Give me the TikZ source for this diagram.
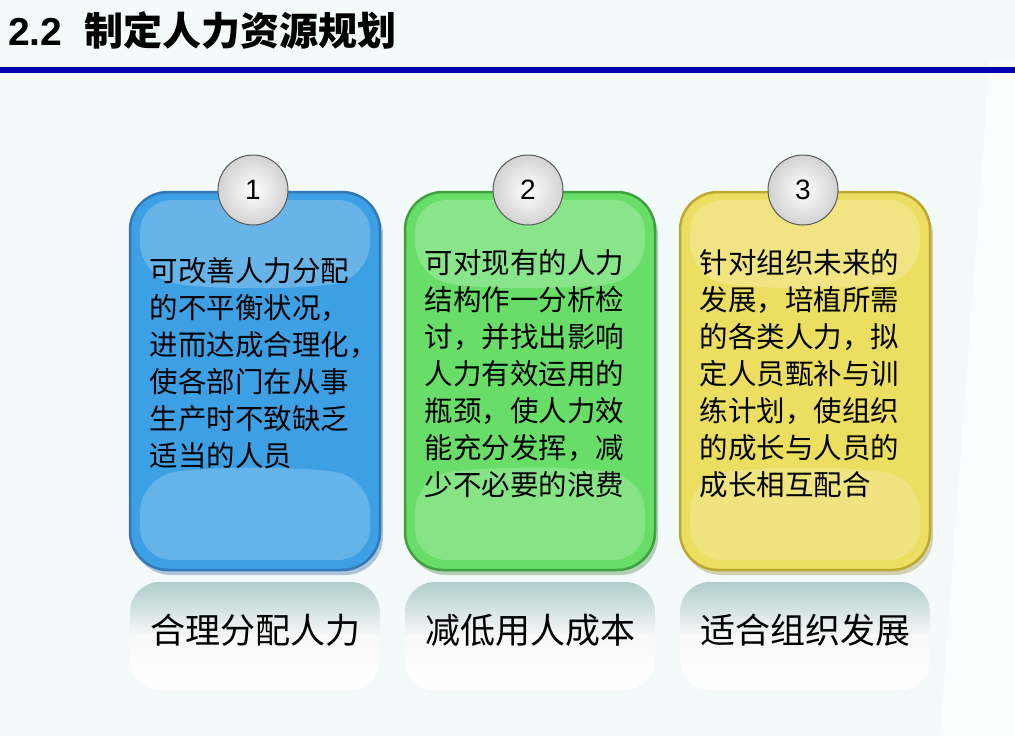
\documentclass[tikz,border=0pt]{standalone}
\usepackage{fontspec}
\setmainfont{Liberation Sans}
\newfontfamily\cjk{Noto Sans CJK SC}
\usetikzlibrary{shadows}
\definecolor{bgc}{RGB}{244,250,250}
\definecolor{bluef}{RGB}{62,160,228}
\definecolor{blued}{RGB}{50,120,185}
\definecolor{greenf}{RGB}{104,222,104}
\definecolor{greend}{RGB}{62,160,62}
\definecolor{yelf}{RGB}{236,222,96}
\definecolor{yeld}{RGB}{190,168,52}
\definecolor{linec}{RGB}{0,0,175}
\tikzset{
 card/.style={draw=#1, line width=2.5pt, rounded corners=38pt},
 numc/.style={circle, draw=gray!70!black, line width=1pt, minimum size=70pt, inner sep=0pt, inner color=white, outer color=gray!35, font=\fontsize{28}{28}\selectfont},
 body/.style={anchor=north west, align=left, text width=250pt, font=\cjk\fontsize{28.5}{37}\selectfont},
 lab/.style={rounded corners=30pt, top color=gray!45!teal!40, bottom color=white, middle color=white!95!gray},
 labt/.style={font=\cjk\fontsize{35}{35}\selectfont}
}
\begin{document}
\begin{tikzpicture}[x=1pt,y=-1pt]
\fill[bgc] (0,0) rectangle (1015,736);
\fill[white,opacity=0.6] (1015,60) -- (1015,736) -- (940,736) -- (990,60) -- cycle;
\useasboundingbox (0,0) rectangle (1015,736);
\node[anchor=west, font=\bfseries\fontsize{39}{39}\selectfont, inner sep=0pt] (title) at (8,31) {2.2\ \ {\cjk 制定人力资源规划}};
\fill[linec] (0,67) rectangle (1015,73);
% cards
\foreach \x/\f/\d/\n in {130/bluef/blued/c1,405/greenf/greend/c2,680/yelf/yeld/c3}{
  \fill[\d!80!black, opacity=0.35, rounded corners=38pt] (\x+3,197) rectangle (\x+253,575);
  \path[card=\d, fill=\f] (\x,192) rectangle (\x+250,570);
  \fill[white, opacity=0.22, rounded corners=32pt] (\x+10,200) -- (\x+240,200) -- (\x+240,275) .. controls (\x+180,290) and (\x+70,290) .. (\x+10,275) -- cycle;
  \fill[white, opacity=0.2, rounded corners=32pt] (\x+10,560) -- (\x+240,560) -- (\x+240,480) .. controls (\x+180,466) and (\x+70,466) .. (\x+10,480) -- cycle;
  \path[lab] (\x,582) rectangle (\x+250,690);
}
\node[numc] (n1) at (253,190) {1};
\node[numc] (n2) at (528,190) {2};
\node[numc] (n3) at (803,190) {3};
\node[body] (t1) at (146,254) {可改善人力分配\\的不平衡状况，\\进而达成合理化，\\使各部门在从事\\生产时不致缺乏\\适当的人员};
\node[body] (t2) at (421,246) {可对现有的人力\\结构作一分析检\\讨，并找出影响\\人力有效运用的\\瓶颈，使人力效\\能充分发挥，减\\少不必要的浪费};
\node[body] (t3) at (696,246) {针对组织未来的\\发展，培植所需\\的各类人力，拟\\定人员甄补与训\\练计划，使组织\\的成长与人员的\\成长相互配合};
\node[labt] (l1) at (255,630) {合理分配人力};
\node[labt] (l2) at (530,630) {减低用人成本};
\node[labt] (l3) at (805,630) {适合组织发展};
\end{tikzpicture}
\end{document}
